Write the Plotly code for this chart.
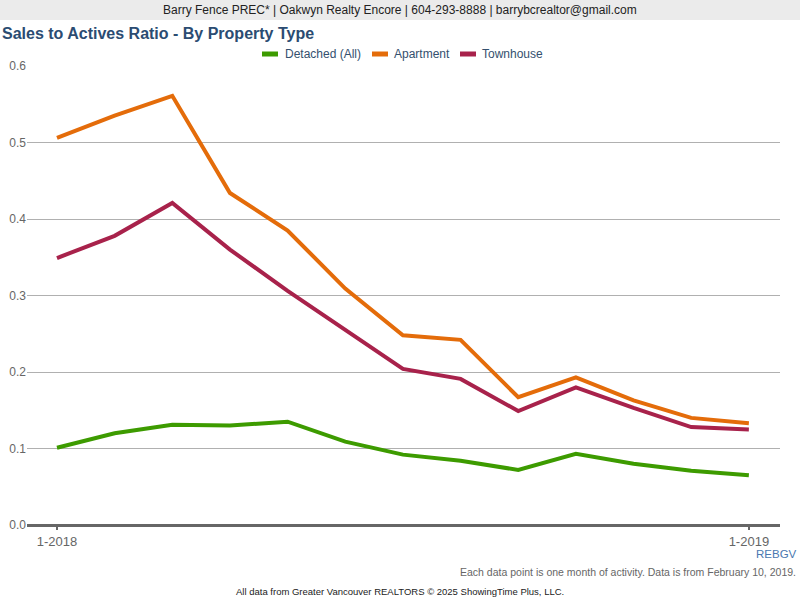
import plotly.graph_objects as go

months = ["1-2018", "2-2018", "3-2018", "4-2018", "5-2018", "6-2018", "7-2018",
          "8-2018", "9-2018", "10-2018", "11-2018", "12-2018", "1-2019"]
detached = [0.101, 0.120, 0.131, 0.130, 0.135, 0.109, 0.092, 0.084, 0.072, 0.093, 0.080, 0.071, 0.065]
apartment = [0.506, 0.535, 0.561, 0.434, 0.385, 0.309, 0.248, 0.242, 0.167, 0.193, 0.163, 0.140, 0.133]
townhouse = [0.349, 0.378, 0.421, 0.360, 0.306, 0.255, 0.204, 0.191, 0.149, 0.180, 0.153, 0.128, 0.125]
series = [("Detached (All)", detached, "#3d9b00"),
          ("Apartment", apartment, "#e46c0a"),
          ("Townhouse", townhouse, "#a8224b")]
tick_labels = ["1-2018", "1-2019"]

W, H = 800, 600
ML, MR, MT, MB = 27, 20, 66, 75
PW, PH = W - ML - MR, H - MT - MB


def px(x):
    return (x - ML) / PW


def py(y):
    return (H - MB - y) / PH


fig = go.Figure()
for name, vals, col in series:
    fig.add_trace(go.Scatter(x=months, y=vals, name=name, mode="lines",
                             line=dict(color=col, width=4), showlegend=False))

font = "Liberation Sans, Arial, sans-serif"
shapes = [dict(type="rect", xref="paper", yref="paper", x0=px(0), x1=px(800),
               y0=py(20), y1=py(0), fillcolor="#ebebeb", line=dict(width=0), layer="below")]
annotations = [
    dict(text="Barry Fence PREC* | Oakwyn Realty Encore | 604-293-8888 | barrybcrealtor@gmail.com",
         x=px(400), y=py(10), xanchor="center", yanchor="middle",
         font=dict(size=12, color="#222222", family=font)),
    dict(text="<b>Sales to Actives Ratio - By Property Type</b>",
         x=px(0), y=py(34), xanchor="left", yanchor="middle",
         font=dict(size=16, color="#2b4c72", family=font)),
    dict(text="REBGV", x=px(799), y=py(554), xanchor="right", yanchor="middle",
         font=dict(size=11.5, color="#4a78b0", family=font)),
    dict(text="Each data point is one month of activity. Data is from February 10, 2019.",
         x=px(798), y=py(572), xanchor="right", yanchor="middle",
         font=dict(size=10.5, color="#666666", family=font)),
    dict(text="All data from Greater Vancouver REALTORS © 2025 ShowingTime Plus, LLC.",
         x=px(400), y=py(591), xanchor="center", yanchor="middle",
         font=dict(size=9.5, color="#222222", family=font)),
]
# legend (drawn manually to match compact swatches)
legend_pos = [(262, 283), (372, 392), (460, 480)]
for (name, vals, col), (sx, tx) in zip(series, legend_pos):
    shapes.append(dict(type="rect", xref="paper", yref="paper", x0=px(sx), x1=px(sx + 16),
                       y0=py(56.5), y1=py(51.5), fillcolor=col, line=dict(width=0)))
    annotations.append(dict(text=name, x=px(tx), y=py(54), xanchor="left", yanchor="middle",
                            font=dict(size=12, color="#34506e", family=font)))
for a in annotations:
    a.update(xref="paper", yref="paper", showarrow=False)

fig.update_layout(
    width=W, height=H, margin=dict(l=ML, r=MR, t=MT, b=MB, autoexpand=False),
    paper_bgcolor="white", plot_bgcolor="white",
    font=dict(family=font, size=13, color="#666666"),
    shapes=shapes, annotations=annotations, showlegend=False,
    xaxis=dict(type="category", range=[-0.52, 12.54], tickmode="array",
               tickvals=[months[0], months[-1]], ticktext=tick_labels,
               showgrid=False, zeroline=False, showline=False, automargin=False,
               ticks="outside", ticklen=4, tickwidth=2, tickcolor="#666666",
               tickfont=dict(size=13, color="#666666")),
    yaxis=dict(range=[0, 0.6], dtick=0.1, tickformat=".1f", showgrid=True,
               gridcolor="#b0b0b0", gridwidth=1, zeroline=True, zerolinecolor="#666666",
               zerolinewidth=3, showline=False, ticks="", automargin=False,
               tickfont=dict(size=12, color="#666666")),
)
fig.write_html("out.html", config={"displayModeBar": False},
               post_script="document.body.style.margin='0';document.body.style.overflow='hidden';")
